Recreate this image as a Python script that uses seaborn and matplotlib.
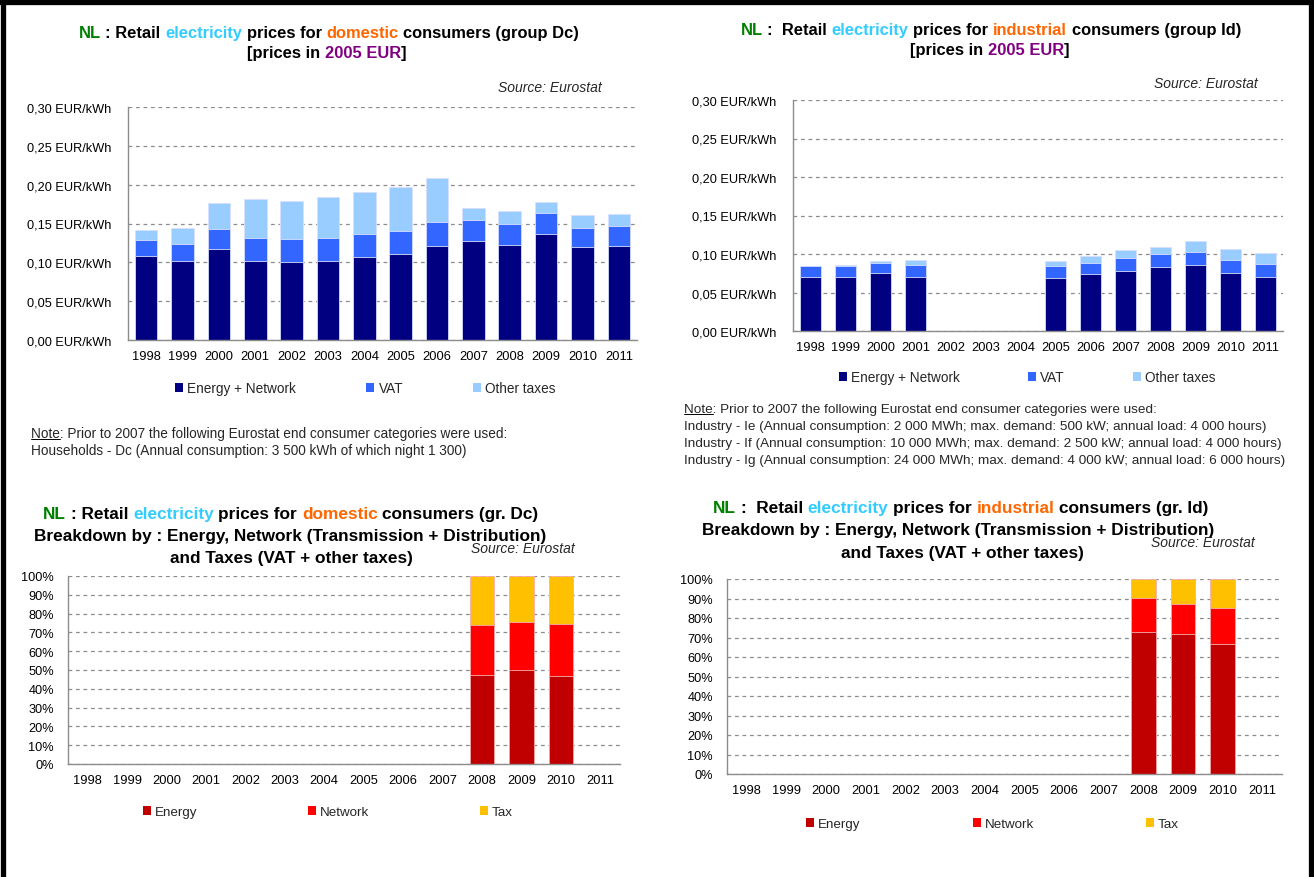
import numpy as np
import pandas as pd
import matplotlib
matplotlib.use("Agg")
import matplotlib.pyplot as plt
import seaborn as sns
from matplotlib.ticker import FuncFormatter, MultipleLocator
from matplotlib.lines import Line2D
from matplotlib.patches import Patch

# ---------------- data ----------------
years = [str(y) for y in range(1998, 2012)]

dom_energy_network = [0.108, 0.102, 0.117, 0.102, 0.101, 0.102, 0.107, 0.111, 0.121, 0.127, 0.1225, 0.136, 0.120, 0.121]
dom_vat = [0.0205, 0.022, 0.026, 0.0295, 0.029, 0.0295, 0.029, 0.029, 0.031, 0.028, 0.0275, 0.027, 0.024, 0.026]
dom_other = [0.0125, 0.020, 0.033, 0.0495, 0.0495, 0.0525, 0.054, 0.057, 0.0565, 0.0155, 0.016, 0.015, 0.017, 0.015]

nan = np.nan
ind_energy_network = [0.0707, 0.0707, 0.0752, 0.0707, nan, nan, nan, 0.0694, 0.0738, 0.0782, 0.0827, 0.0853, 0.0752, 0.0707]
ind_vat = [0.0133, 0.0143, 0.0132, 0.0146, nan, nan, nan, 0.0146, 0.0146, 0.0160, 0.0172, 0.0177, 0.0176, 0.0159]
ind_other = [0.0003, 0.0005, 0.0027, 0.0075, nan, nan, nan, 0.0075, 0.0089, 0.0106, 0.0089, 0.0133, 0.0132, 0.0142]

dom_share_energy = [nan] * 10 + [0.473, 0.499, 0.467, nan]
dom_share_network = [nan] * 10 + [0.265, 0.255, 0.277, nan]
dom_share_tax = [nan] * 10 + [0.262, 0.246, 0.256, nan]

ind_share_energy = [nan] * 10 + [0.730, 0.718, 0.667, nan]
ind_share_network = [nan] * 10 + [0.171, 0.154, 0.183, nan]
ind_share_tax = [nan] * 10 + [0.099, 0.128, 0.150, nan]

price_labels = ["Energy + Network", "VAT", "Other taxes"]
share_labels = ["Energy", "Network", "Tax"]

# ---------------- style ----------------
sns.set_style("white")
FONT = ["Liberation Sans", "DejaVu Sans"]
plt.rcParams["font.family"] = FONT

C_NAVY, C_BLUE, C_LBLUE = "#000080", "#3366FF", "#99CCFF"
C_EN, C_NET, C_TAX = "#C00000", "#FF0000", "#FFC000"
GREEN, CYAN, ORANGE, PURPLE = "#008000", "#33CCFF", "#FF6600", "#800080"
GRID = "#8c8c8c"

W, H = 1314, 878
fig = plt.figure(figsize=(W / 100, H / 100), dpi=100)
fig.patch.set_facecolor("white")
renderer = fig.canvas.get_renderer()


def fx(px):
    return px / W


def fy(py):
    return 1 - py / H


def text_width(s, **kw):
    t = fig.text(0, 0, s, **kw)
    w = t.get_window_extent(renderer).width
    t.remove()
    return w


def adv(s, **kw):
    # advance width of s, measured between two sentinel glyphs
    return text_width("I" + s + "I", **kw) - text_width("II", **kw)


def rich_line(xc, yb, parts, size):
    kw = dict(fontsize=size, fontweight="bold")
    full = "".join(p for p, _ in parts)
    total = adv(full, **kw)
    x0 = xc - total / 2
    prefix = ""
    for s, c in parts:
        lead = s[: len(s) - len(s.lstrip())]
        body = s.strip()
        pre = prefix + lead
        off = adv(pre, **kw) if pre else 0
        fig.text(fx(x0 + off), fy(yb), body, color=c, ha="left", va="baseline", **kw)
        prefix += s


def stacked(ax, df, cols, colors, edge):
    cum = df[cols].cumsum(axis=1)
    for i in range(len(cols) - 1, -1, -1):
        sns.barplot(x=df["year"], y=cum[cols[i]], order=years, color=colors[i],
                    saturation=1, width=0.62, errorbar=None, ax=ax,
                    edgecolor=edge, linewidth=0.6)


def style_axes(ax):
    ax.set_xlabel("")
    ax.set_ylabel("")
    ax.set_xlim(-0.5, len(years) - 0.5)
    for s in ["top", "right"]:
        ax.spines[s].set_visible(False)
    for s in ["left", "bottom"]:
        ax.spines[s].set_color(GRID)
        ax.spines[s].set_linewidth(1.0)
    ax.yaxis.grid(True, linestyle=(0, (3, 3)), color=GRID, linewidth=0.9)
    ax.xaxis.grid(False)
    ax.set_axisbelow(True)
    ax.set_xticks(np.arange(-0.5, len(years), 1), minor=True)
    ax.tick_params(axis="x", which="major", length=0, labelsize=9.3, pad=7, colors="black")
    ax.tick_params(axis="x", which="minor", length=4, color=GRID, direction="out")
    ax.tick_params(axis="y", which="major", length=4, color=GRID, direction="out",
                   labelsize=9.2, pad=8, labelcolor="black")


def add_legend(ax, labels, colors, x_px, y_px, spacing, size):
    handles = [Patch(facecolor=c, edgecolor="none") for c in colors]
    ax.legend(handles, labels, ncol=3, loc="center left",
              bbox_to_anchor=(fx(x_px), fy(y_px)), bbox_transform=fig.transFigure,
              frameon=False, handlelength=0.6, handleheight=0.6, handletextpad=0.3,
              columnspacing=spacing, fontsize=size, borderpad=0, borderaxespad=0)


def axes_px(left, right, top, bottom):
    return fig.add_axes([fx(left), fy(bottom), (right - left) / W, (bottom - top) / H])


eur_fmt = FuncFormatter(lambda v, p: f"{v:.2f}".replace(".", ",") + " EUR/kWh")
pct_fmt = FuncFormatter(lambda v, p: f"{v * 100:.0f}%")

df_dom = pd.DataFrame({"year": years, "a": dom_energy_network, "b": dom_vat, "c": dom_other})
df_ind = pd.DataFrame({"year": years, "a": ind_energy_network, "b": ind_vat, "c": ind_other})
df_dsh = pd.DataFrame({"year": years, "a": dom_share_energy, "b": dom_share_network, "c": dom_share_tax})
df_ish = pd.DataFrame({"year": years, "a": ind_share_energy, "b": ind_share_network, "c": ind_share_tax})

# ---------------- top-left ----------------
ax1 = axes_px(128, 637, 108, 341)
stacked(ax1, df_dom, ["a", "b", "c"], [C_NAVY, C_BLUE, C_LBLUE], "#d8e0ff")
style_axes(ax1)
ax1.set_ylim(0, 0.30)
ax1.yaxis.set_major_locator(MultipleLocator(0.05))
ax1.yaxis.set_major_formatter(eur_fmt)
add_legend(ax1, price_labels, [C_NAVY, C_BLUE, C_LBLUE], 175, 389, 5.15, 9.8)

# ---------------- top-right ----------------
ax2 = axes_px(793, 1283, 101, 332)
stacked(ax2, df_ind, ["a", "b", "c"], [C_NAVY, C_BLUE, C_LBLUE], "#d8e0ff")
style_axes(ax2)
ax2.set_ylim(0, 0.30)
ax2.yaxis.set_major_locator(MultipleLocator(0.05))
ax2.yaxis.set_major_formatter(eur_fmt)
add_legend(ax2, price_labels, [C_NAVY, C_BLUE, C_LBLUE], 839, 378, 5.0, 9.8)

# ---------------- bottom-left ----------------
ax3 = axes_px(68, 620, 577, 765)
stacked(ax3, df_dsh, ["a", "b", "c"], [C_EN, C_NET, C_TAX], "#f3b0b0")
style_axes(ax3)
ax3.set_ylim(0, 1.0)
ax3.yaxis.set_major_locator(MultipleLocator(0.1))
ax3.yaxis.set_major_formatter(pct_fmt)
ax3.tick_params(axis="y", pad=6)
add_legend(ax3, share_labels, [C_EN, C_NET, C_TAX], 143, 813, 8.3, 9.6)

# ---------------- bottom-right ----------------
ax4 = axes_px(727, 1282, 580, 775)
stacked(ax4, df_ish, ["a", "b", "c"], [C_EN, C_NET, C_TAX], "#f3b0b0")
style_axes(ax4)
ax4.set_ylim(0, 1.0)
ax4.yaxis.set_major_locator(MultipleLocator(0.1))
ax4.yaxis.set_major_formatter(pct_fmt)
ax4.tick_params(axis="y", pad=6)
add_legend(ax4, share_labels, [C_EN, C_NET, C_TAX], 806, 825, 8.4, 9.6)

# ---------------- titles ----------------
TS, BS = 11.9, 12.4
rich_line(329, 38, [("NL", GREEN), (" : Retail ", "black"), ("electricity", CYAN),
                    (" prices for ", "black"), ("domestic", ORANGE),
                    (" consumers (group Dc)", "black")], TS)
rich_line(327, 58, [("[prices in ", "black"), ("2005 EUR", PURPLE), ("]", "black")], TS)

rich_line(991, 35, [("NL", GREEN), (" :  Retail ", "black"), ("electricity", CYAN),
                    (" prices for ", "black"), ("industrial", ORANGE),
                    (" consumers (group Id)", "black")], TS)
rich_line(990, 55, [("[prices in ", "black"), ("2005 EUR", PURPLE), ("]", "black")], TS)

rich_line(291, 519, [("NL", GREEN), (" : Retail ", "black"), ("electricity", CYAN),
                     (" prices for ", "black"), ("domestic", ORANGE),
                     (" consumers (gr. Dc)", "black")], BS)
rich_line(290, 541, [("Breakdown by : Energy, Network (Transmission + Distribution)", "black")], BS)
rich_line(291, 563, [("and Taxes (VAT + other taxes)", "black")], BS)

rich_line(961, 513, [("NL", GREEN), (" :  Retail ", "black"), ("electricity", CYAN),
                     (" prices for ", "black"), ("industrial", ORANGE),
                     (" consumers (gr. Id)", "black")], BS)
rich_line(958, 535, [("Breakdown by : Energy, Network (Transmission + Distribution)", "black")], BS)
rich_line(962, 558, [("and Taxes (VAT + other taxes)", "black")], BS)

# ---------------- sources ----------------
for xr, yc in [(602, 88), (1258, 84), (575, 549), (1255, 543)]:
    fig.text(fx(xr), fy(yc), "Source: Eurostat", ha="right", va="center",
             fontsize=10, style="italic")


# ---------------- notes ----------------
def note_block(x, y0, dy, lines, size):
    kw = dict(fontsize=size)
    for i, s in enumerate(lines):
        fig.text(fx(x), fy(y0 + i * dy), s, ha="left", va="baseline", **kw)
    wn = text_width("Note", **kw)
    fig.add_artist(Line2D([fx(x), fx(x + wn)], [fy(y0 + 2), fy(y0 + 2)],
                          transform=fig.transFigure, color="black", lw=0.7))


note_block(31, 438, 17, ["Note: Prior to 2007 the following Eurostat end consumer categories were used:",
                         "Households - Dc (Annual consumption: 3 500 kWh of which night 1 300)"], 9.8)
note_block(684, 413, 17, ["Note: Prior to 2007 the following Eurostat end consumer categories were used:",
                          "Industry - Ie (Annual consumption: 2 000 MWh; max. demand: 500 kW; annual load: 4 000 hours)",
                          "Industry - If (Annual consumption: 10 000 MWh; max. demand: 2 500 kW; annual load: 4 000 hours)",
                          "Industry - Ig (Annual consumption: 24 000 MWh; max. demand: 4 000 kW; annual load: 6 000 hours)"], 9.7)

# ---------------- frame ----------------
for xs, ys in [([fx(2.5), fx(2.5)], [0, 1]), ([0, 1], [fy(2.5), fy(2.5)]),
               ([fx(1310.5), fx(1310.5)], [0, 1])]:
    fig.add_artist(Line2D(xs, ys, transform=fig.transFigure, color="black", lw=3.8))

fig.savefig("out.png", dpi=100)
